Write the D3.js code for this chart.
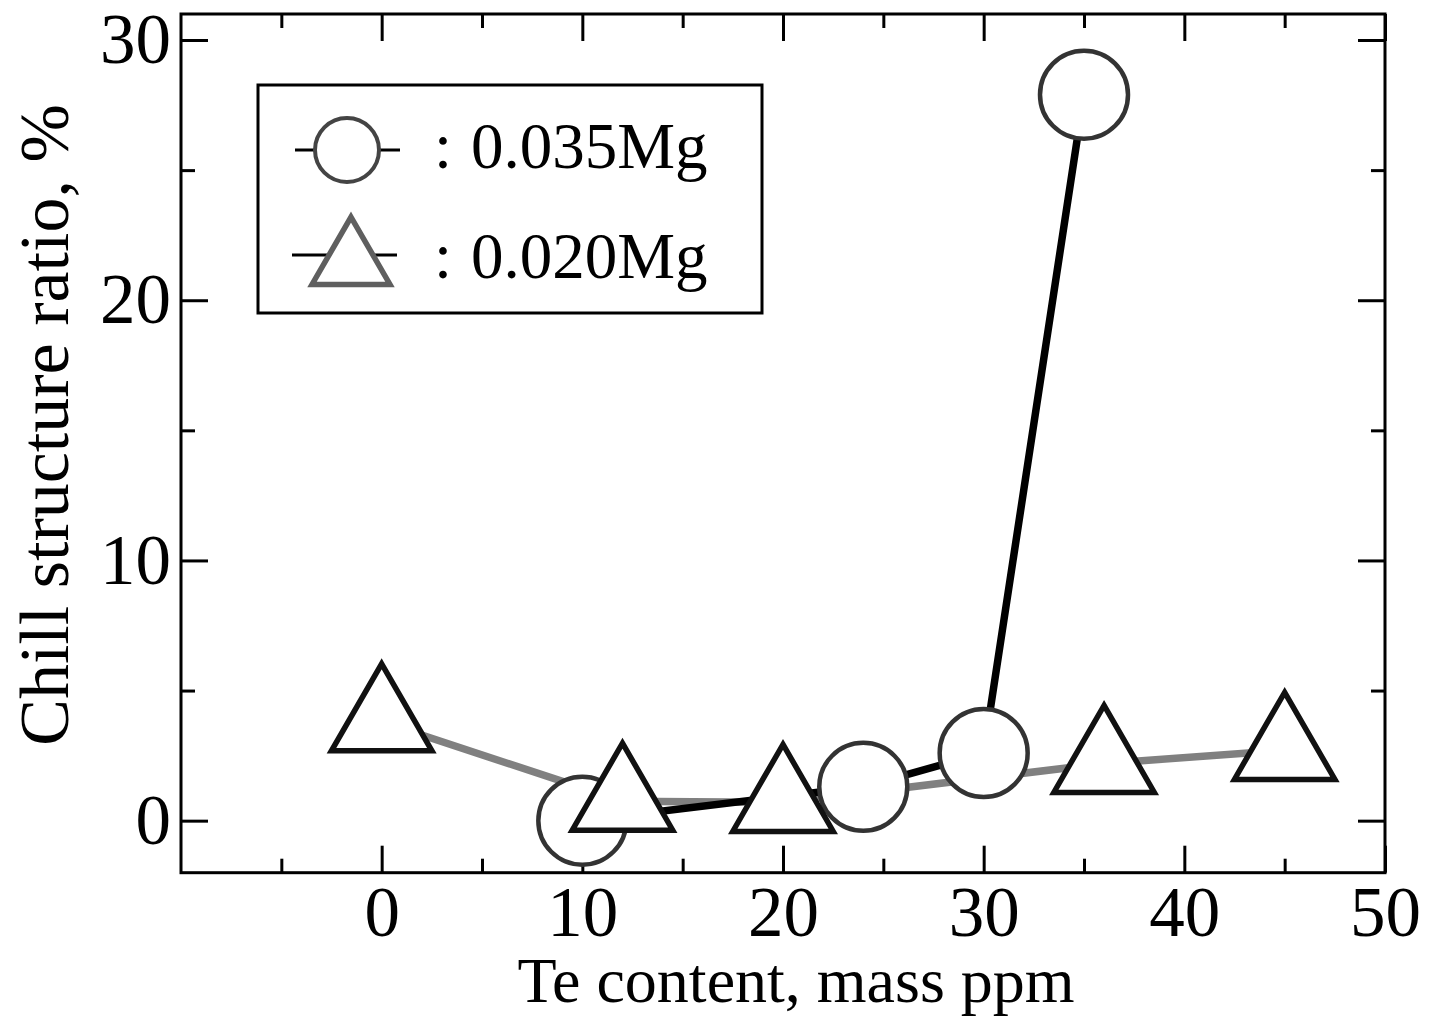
<!DOCTYPE html>
<html>
<head>
<meta charset="utf-8">
<script src="https://cdn.jsdelivr.net/npm/d3@7"></script>
<style>
  html, body { margin: 0; padding: 0; background: #fff; }
  svg { display: block; }
  text { font-family: "Liberation Serif", "Times New Roman", serif; fill: #000; }
</style>
</head>
<body>
<svg id="chart" width="1429" height="1016"></svg>
<script>
// ---- data ----
const seriesNames = ["0.035Mg", "0.020Mg"];
const mg035X = [10, 24, 30, 35];
const mg035Y = [0, 1.3, 2.6, 27.9];
const mg020X = [0, 12, 20, 36, 45];
const mg020Y = [3.8, 0.75, 0.7, 2.2, 2.7];
const xMajorTicks = [0, 10, 20, 30, 40, 50];
const xMinorTicks = [-5, 5, 15, 25, 35, 45];
const yMajorTicks = [0, 10, 20, 30];
const yMinorTicks = [5, 15, 25];
const xTitle = "Te content, mass ppm";
const yTitle = "Chill structure ratio, %";

// ---- layout ----
const L = 181, R = 1385, T = 14, B = 872.7;
const svg = d3.select("#chart");
svg.append("rect").attr("width", 1429).attr("height", 1016).attr("fill", "#fff");

const x = d3.scaleLinear().domain([-10, 50]).range([L, R]);
const y = d3.scaleLinear().domain([-2, 31]).range([B, T]);

const FONT = 71;
function styleAxis(g) {
  g.select(".domain").remove();
  g.selectAll(".tick line").attr("stroke", "#000").attr("stroke-width", 3);
  g.selectAll(".tick text").style("font-size", FONT + "px")
    .style("font-family", '"Liberation Serif", "Times New Roman", serif').attr("fill", "#000");
}

// bottom axis (labels + major ticks inward)
svg.append("g").attr("transform", `translate(0,${B})`)
  .call(d3.axisBottom(x).tickValues(xMajorTicks).tickSize(-27).tickSizeOuter(0).tickPadding(13).tickFormat(d3.format("d")))
  .call(styleAxis);
svg.append("g").attr("transform", `translate(0,${B})`)
  .call(d3.axisBottom(x).tickValues(xMinorTicks).tickSize(-14).tickSizeOuter(0).tickFormat(""))
  .call(styleAxis);
// top axis
svg.append("g").attr("transform", `translate(0,${T})`)
  .call(d3.axisTop(x).tickValues(xMajorTicks).tickSize(-27).tickSizeOuter(0).tickFormat(""))
  .call(styleAxis);
svg.append("g").attr("transform", `translate(0,${T})`)
  .call(d3.axisTop(x).tickValues(xMinorTicks).tickSize(-14).tickSizeOuter(0).tickFormat(""))
  .call(styleAxis);
// left axis
svg.append("g").attr("transform", `translate(${L},0)`)
  .call(d3.axisLeft(y).tickValues(yMajorTicks).tickSize(-27).tickSizeOuter(0).tickPadding(10).tickFormat(d3.format("d")))
  .call(styleAxis);
svg.append("g").attr("transform", `translate(${L},0)`)
  .call(d3.axisLeft(y).tickValues(yMinorTicks).tickSize(-14).tickSizeOuter(0).tickFormat(""))
  .call(styleAxis);
// right axis
svg.append("g").attr("transform", `translate(${R},0)`)
  .call(d3.axisRight(y).tickValues(yMajorTicks).tickSize(-27).tickSizeOuter(0).tickFormat(""))
  .call(styleAxis);
svg.append("g").attr("transform", `translate(${R},0)`)
  .call(d3.axisRight(y).tickValues(yMinorTicks).tickSize(-14).tickSizeOuter(0).tickFormat(""))
  .call(styleAxis);

// frame
svg.append("rect").attr("x", L).attr("y", T).attr("width", R - L).attr("height", B - T)
  .attr("fill", "none").attr("stroke", "#000").attr("stroke-width", 3);

// axis titles
svg.append("text").attr("x", 796).attr("y", 1002).attr("text-anchor", "middle")
  .style("font-size", "64px").text(xTitle);
svg.append("text").attr("transform", "translate(68,425) rotate(-90)").attr("text-anchor", "middle")
  .style("font-size", "70px").text(yTitle);

// ---- series ----
const d035 = mg035X.map((v, i) => ({ x: v, y: mg035Y[i] }));
const d020 = mg020X.map((v, i) => ({ x: v, y: mg020Y[i] }));
const line = d3.line().x(d => x(d.x)).y(d => y(d.y));

svg.append("path").datum(d020).attr("d", line)
  .attr("fill", "none").attr("stroke", "#808080").attr("stroke-width", 7.5);
svg.append("path").datum(d035).attr("d", line)
  .attr("fill", "none").attr("stroke", "#000").attr("stroke-width", 7.5).attr("stroke-linejoin", "round");

svg.selectAll("circle.m035").data(d035).enter().append("circle")
  .attr("class", "m035").attr("cx", d => x(d.x)).attr("cy", d => y(d.y)).attr("r", 44)
  .attr("fill", "#fff").attr("stroke", "#333").attr("stroke-width", 4.5);

const tri = d3.symbol().type(d3.symbolTriangle).size(4370);
svg.selectAll("path.m020").data(d020).enter().append("path")
  .attr("class", "m020").attr("d", tri)
  .attr("transform", d => `translate(${x(d.x)},${y(d.y)})`)
  .attr("fill", "#fff").attr("stroke", "#111").attr("stroke-width", 5.5).attr("stroke-linejoin", "miter");

// ---- legend ----
const lg = svg.append("g");
lg.append("rect").attr("x", 258).attr("y", 85).attr("width", 504).attr("height", 228)
  .attr("fill", "#fff").attr("stroke", "#000").attr("stroke-width", 3);
// entry 1
lg.append("line").attr("x1", 295).attr("x2", 400).attr("y1", 150).attr("y2", 150)
  .attr("stroke", "#000").attr("stroke-width", 3);
lg.append("circle").attr("cx", 347).attr("cy", 150).attr("r", 32)
  .attr("fill", "#fff").attr("stroke", "#444").attr("stroke-width", 4);
lg.append("text").attr("x", 434).attr("y", 168).style("font-size", "65px").text(":");
lg.append("text").attr("x", 471).attr("y", 168).style("font-size", "65px").text(seriesNames[0]);
// entry 2
lg.append("line").attr("x1", 292).attr("x2", 397).attr("y1", 255).attr("y2", 255)
  .attr("stroke", "#000").attr("stroke-width", 3);
lg.append("path").attr("d", d3.symbol().type(d3.symbolTriangle).size(2630))
  .attr("transform", "translate(351,262)")
  .attr("fill", "#fff").attr("stroke", "#5f5f5f").attr("stroke-width", 5.5);
lg.append("text").attr("x", 434).attr("y", 278).style("font-size", "65px").text(":");
lg.append("text").attr("x", 471).attr("y", 278).style("font-size", "65px").text(seriesNames[1]);
</script>
</body>
</html>
